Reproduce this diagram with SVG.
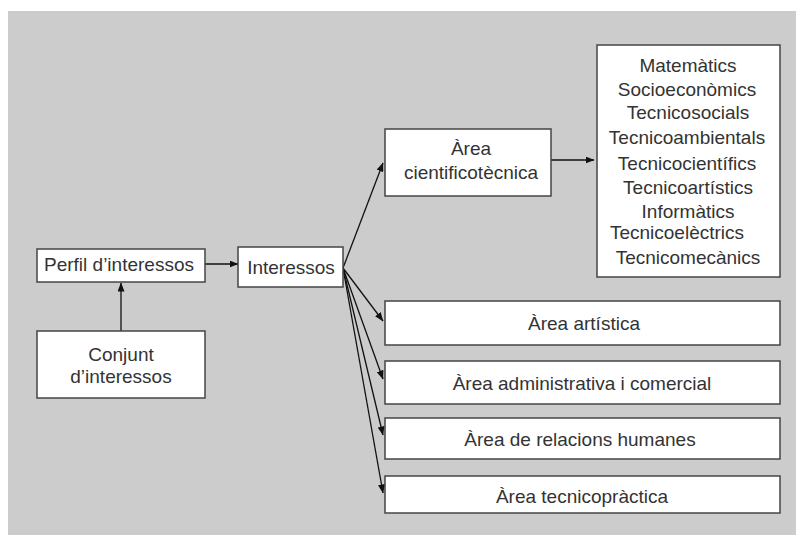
<svg xmlns="http://www.w3.org/2000/svg" width="796" height="535" viewBox="0 0 796 535">
  <defs>
    <marker id="arrow" markerWidth="9" markerHeight="7" refX="8.5" refY="3.5" orient="auto" markerUnits="userSpaceOnUse">
      <path d="M0,0 L9,3.5 L0,7 Z" fill="#111"/>
    </marker>
    <style>
      .box { fill: #ffffff; stroke: #444; stroke-width: 1.5; }
      .lbl { font-family: "Liberation Sans", Arial, sans-serif; font-size: 19px; fill: #333; text-anchor: middle; }
      .edge { stroke: #111; stroke-width: 1.3; fill: none; marker-end: url(#arrow); }
    </style>
  </defs>

  <rect x="8" y="11" width="788" height="524" fill="#cccccc"/>

  <g id="connectors">
    <line class="edge" x1="121" y1="331" x2="121" y2="283"/>
    <line class="edge" x1="205" y1="264" x2="238" y2="264"/>
    <line class="edge" x1="343" y1="268" x2="383" y2="163"/>
    <line class="edge" x1="551" y1="160" x2="594" y2="160"/>
    <line class="edge" x1="343" y1="268" x2="383" y2="321"/>
    <line class="edge" x1="343" y1="268" x2="383" y2="379"/>
    <line class="edge" x1="343" y1="268" x2="383" y2="435"/>
    <line class="edge" x1="343" y1="268" x2="383" y2="493"/>
  </g>

  <g id="perfil">
    <rect class="box" x="37" y="249" width="168" height="33"/>
    <text class="lbl" x="119" y="271">Perfil d’interessos</text>
  </g>

  <g id="conjunt">
    <rect class="box" x="37" y="331" width="168" height="67"/>
    <text class="lbl" x="121" y="361">Conjunt</text>
    <text class="lbl" x="121" y="383">d’interessos</text>
  </g>

  <g id="interessos">
    <rect class="box" x="238" y="247" width="105" height="40"/>
    <text class="lbl" x="291" y="274">Interessos</text>
  </g>

  <g id="area-cientificotecnica">
    <rect class="box" x="385" y="129" width="166" height="67"/>
    <text class="lbl" x="471" y="155">Àrea</text>
    <text class="lbl" x="471" y="179">cientificotècnica</text>
  </g>

  <g id="ambits">
    <rect class="box" x="597" y="45" width="183" height="232"/>
    <text class="lbl" x="688" y="72">Matemàtics</text>
    <text class="lbl" x="687" y="96">Socioeconòmics</text>
    <text class="lbl" x="688" y="119">Tecnicosocials</text>
    <text class="lbl" x="687" y="144">Tecnicoambientals</text>
    <text class="lbl" x="687" y="170">Tecnicocientífics</text>
    <text class="lbl" x="688" y="194">Tecnicoartístics</text>
    <text class="lbl" x="688" y="218">Informàtics</text>
    <text class="lbl" x="677" y="239">Tecnicoelèctrics</text>
    <text class="lbl" x="688" y="264">Tecnicomecànics</text>
  </g>

  <g id="area-artistica">
    <rect class="box" x="385" y="301" width="395" height="44"/>
    <text class="lbl" x="584" y="330">Àrea artística</text>
  </g>

  <g id="area-administrativa">
    <rect class="box" x="385" y="361" width="395" height="43"/>
    <text class="lbl" x="582" y="390">Àrea administrativa i comercial</text>
  </g>

  <g id="area-relacions">
    <rect class="box" x="385" y="418" width="395" height="41"/>
    <text class="lbl" x="580" y="446">Àrea de relacions humanes</text>
  </g>

  <g id="area-tecnicopractica">
    <rect class="box" x="385" y="476" width="395" height="37"/>
    <text class="lbl" x="582" y="503">Àrea tecnicopràctica</text>
  </g>
</svg>
